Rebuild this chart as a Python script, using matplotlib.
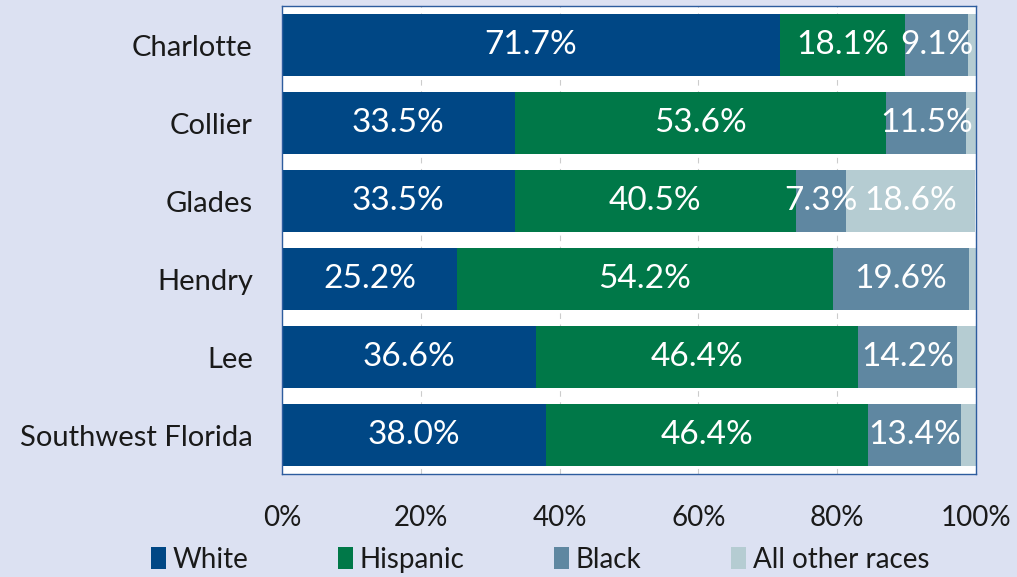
import matplotlib.pyplot as plt
import numpy as np

counties = ['Charlotte', 'Collier', 'Glades', 'Hendry', 'Lee', 'Southwest Florida']
races = ['White', 'Hispanic', 'Black', 'All other races']
white = [71.7, 33.5, 33.5, 25.2, 36.6, 38.0]
hispanic = [18.1, 53.6, 40.5, 54.2, 46.4, 46.4]
black = [9.1, 11.5, 7.3, 19.6, 14.2, 13.4]
other = [1.1, 1.4, 18.6, 1.0, 2.8, 2.2]
colors = ['#004785', '#007848', '#5f87a1', '#b5ccd2']

plt.rcParams['font.family'] = ['Lato', 'DejaVu Sans']
bg = '#dce1f2'
txt = '#1a1a1a'

fig = plt.figure(figsize=(10.17, 5.77), dpi=100, facecolor=bg)
ax = fig.add_axes([0.2773, 0.1785, 0.6824, 0.811])
ax.set_facecolor('white')

y = np.arange(len(counties))
left = np.zeros(len(counties))
for vals, name, c in zip([white, hispanic, black, other], races, colors):
    vals = np.array(vals)
    ax.barh(y, vals, left=left, height=0.79, color=c, label=name, zorder=2)
    for yi, l, v in zip(y, left, vals):
        if v >= 5:
            ax.text(l + v / 2, yi, f'{v:.1f}%', ha='center', va='center',
                    color='white', fontsize=24, zorder=3)
    left += vals

ax.set_xlim(0, 100)
ax.set_ylim(5.5, -0.5)
ax.set_yticks(y)
ax.set_yticklabels(counties, fontsize=21, color=txt)
ax.set_xticks([0, 20, 40, 60, 80, 100])
ax.set_xticklabels(['0%', '20%', '40%', '60%', '80%', '100%'], fontsize=20, color=txt)
ax.tick_params(axis='y', length=0, pad=21)
ax.tick_params(axis='x', length=0, pad=22)
ax.xaxis.grid(True, linestyle=(0, (5, 5)), color='#cccccc', linewidth=0.8, zorder=1)
for s in ax.spines.values():
    s.set_color('#2d5c9e')
    s.set_linewidth(1)

leg = fig.legend(loc='center', bbox_to_anchor=(0.531, 0.03), ncol=4, frameon=False,
                 fontsize=20, handlelength=0.55, handleheight=0.85, handletextpad=0.25,
                 columnspacing=3.2)
for t in leg.get_texts():
    t.set_color(txt)

plt.savefig('out.png', dpi=100, facecolor=bg)
